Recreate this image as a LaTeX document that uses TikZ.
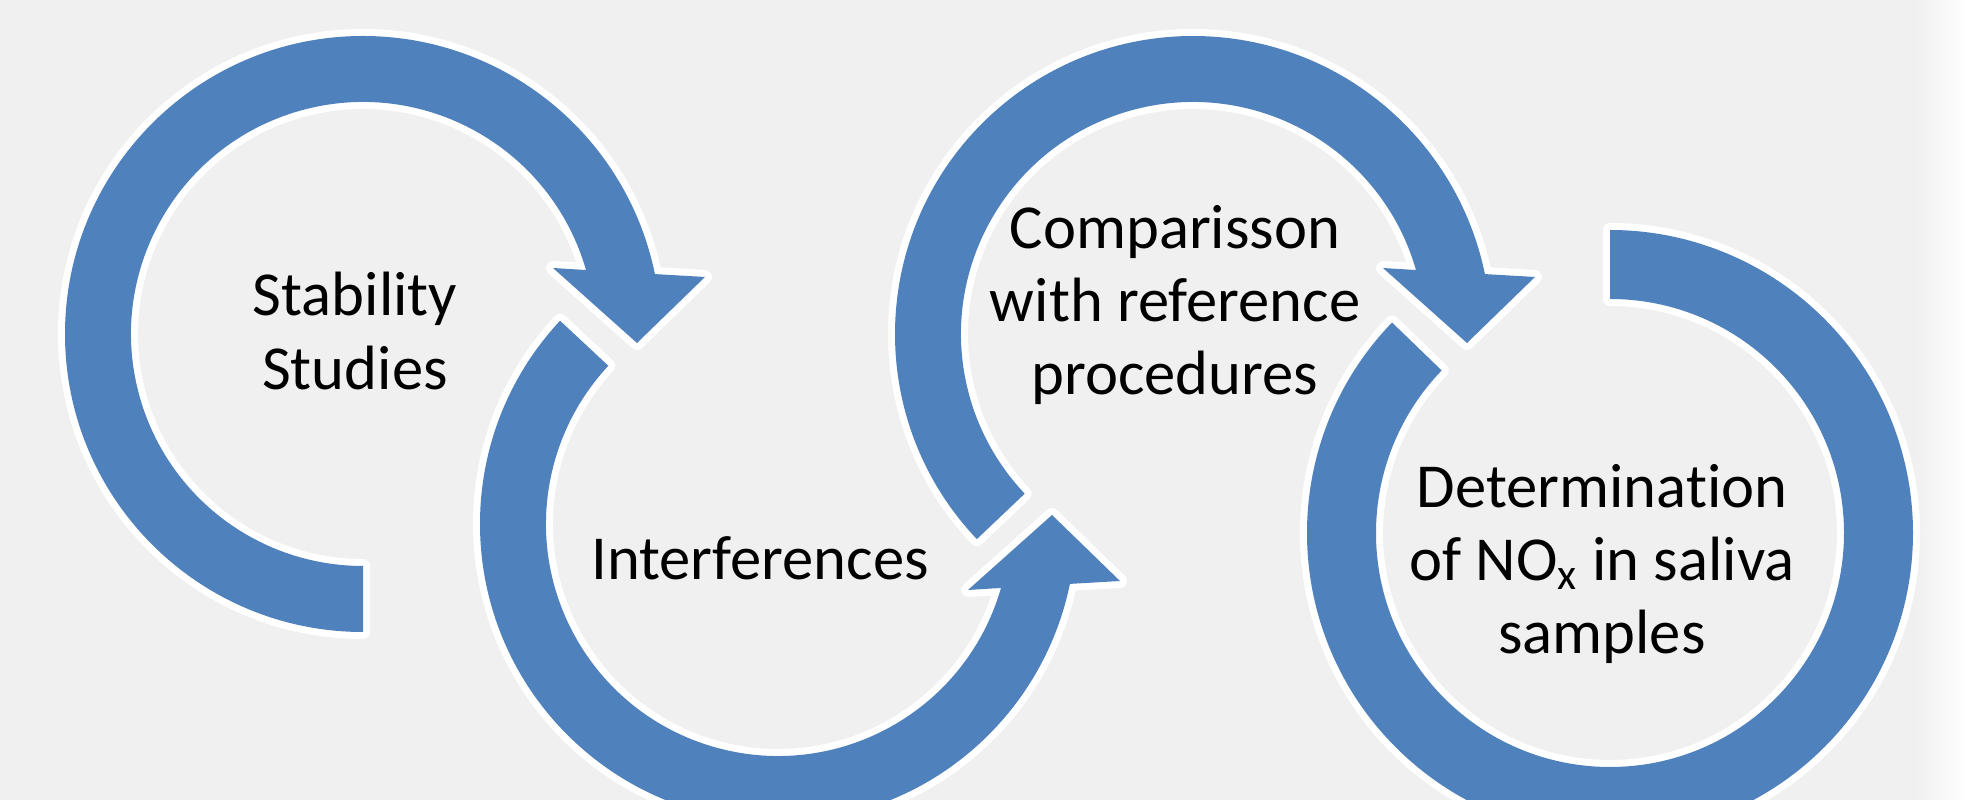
\documentclass[tikz,border=0pt]{standalone}
\usepackage{fontspec}
\setmainfont{Carlito}[Ligatures=NoCommon]
\definecolor{ringblue}{HTML}{4F81BD}
\definecolor{bggray}{HTML}{F0F0F0}
\tikzset{
  ring/.style={fill=ringblue, preaction={draw=white, line width=4pt, line join=round}},
  txt/.style={align=center, inner sep=0pt, font=\fontsize{17.8}{20.8}\selectfont}
}
\newcommand{\cycarrow}[1]{%
  \path[ring] (#1:298) arc[start angle=#1, end angle=11.6, radius=298]
    -- (342,57) -- (274,-9) -- (190,66) -- (16:232)
    arc[start angle=16, end angle=#1, radius=232] -- cycle;}

\begin{document}
\begin{tikzpicture}[x=0.01cm, y=0.01cm]
\useasboundingbox (0,0) rectangle (1968,800);
\fill[bggray] (0,0) rectangle (1968,800);
\shade[left color=bggray, right color=white] (1915,0) rectangle (1968,800);
\clip (0,0) rectangle (1968,800);

\begin{scope}[shift={(363,466)}]
\cycarrow{270}
\end{scope}
\begin{scope}[shift={(778,276)}, yscale=-1]
\cycarrow{223}
\end{scope}
\begin{scope}[shift={(1193,466)}]
\cycarrow{223.5}
\end{scope}
\begin{scope}[shift={(1610,267)}]
\path[ring] (136:303) arc[start angle=136, end angle=450, radius=303]
  -- (450:234) arc[start angle=450, end angle=136, radius=234] -- cycle;
\end{scope}

\node[txt] (stab) at (355,469) {Stability\\Studies};
\node[txt] (interf) at (760,242) {Interferences};
\node[txt] (comp) at (1175,495) {Comparisson\\with reference\\procedures};
\node[txt] (determ) at (1602,236) {Determination\\of NO\textsubscript{x} in saliva\\samples};
\end{tikzpicture}
\end{document}
